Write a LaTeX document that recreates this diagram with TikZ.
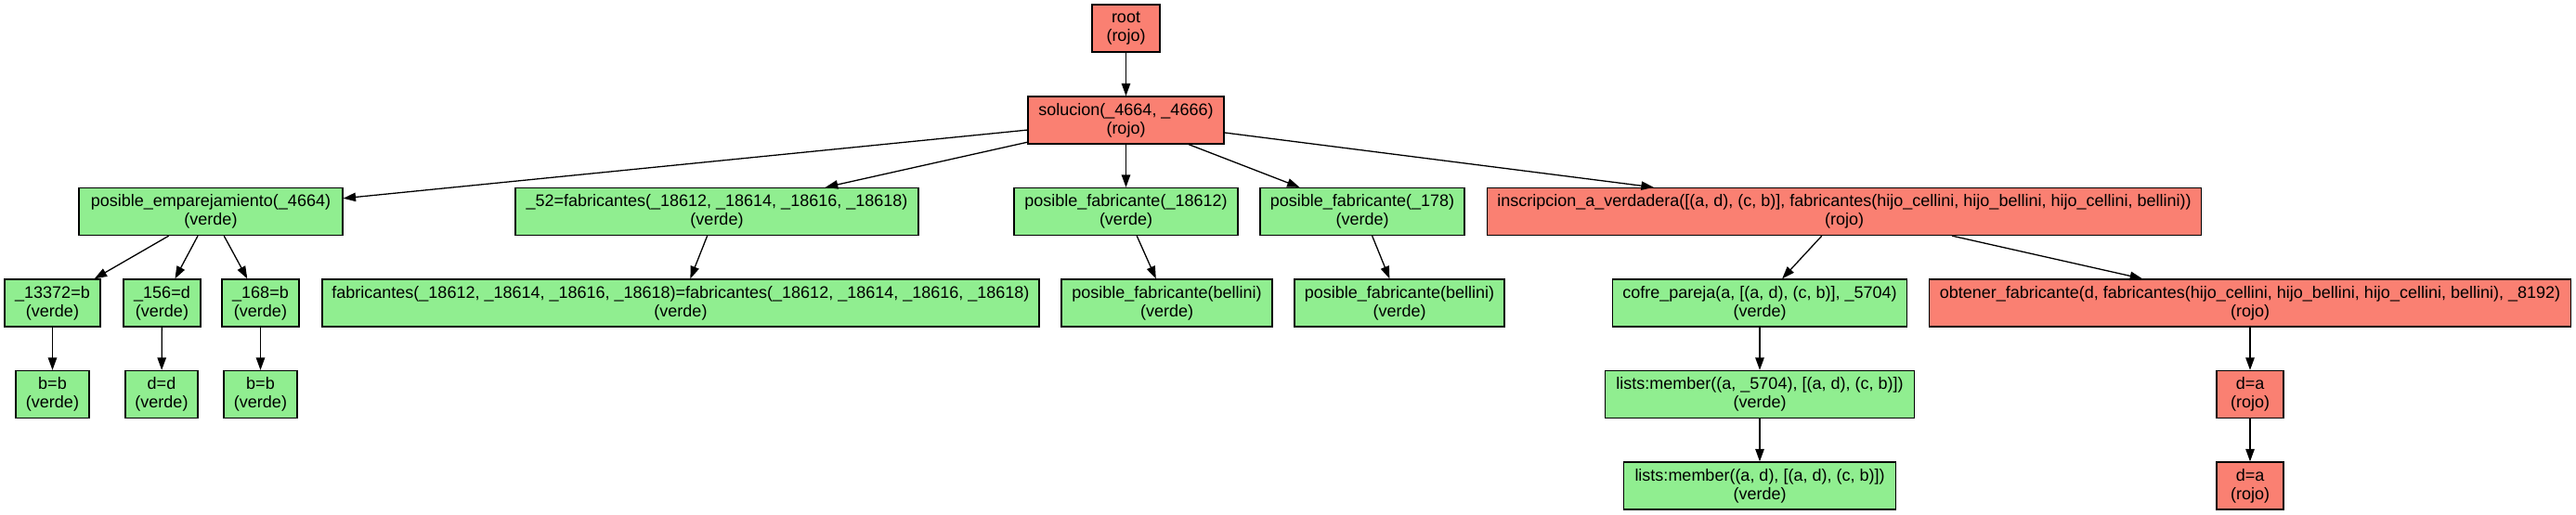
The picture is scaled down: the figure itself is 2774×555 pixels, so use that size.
\documentclass[tikz,border=0pt]{standalone}
\usepackage{fontspec}
\setmainfont{Liberation Sans}
\usetikzlibrary{arrows.meta}
\definecolor{verde}{HTML}{90EE90}
\definecolor{rojo}{HTML}{FA8072}
\begin{document}
\begin{tikzpicture}[x=0.5pt,y=-0.5pt,
 box/.style={draw=black,line width=0.65pt,minimum height=25.5pt,inner sep=0pt,align=center,font=\fontsize{9}{10}\selectfont},
 g/.style={box,fill=verde},
 r/.style={box,fill=rojo},
 edge/.style={-{Triangle[length=6.7pt,width=4.7pt]},line width=0.65pt}]
\useasboundingbox (0,0) rectangle (2774,555);
% row 0
\node[r,minimum width=36.5pt] (root) at (1212.5,30.5) {root\\(rojo)};
% row 1
\node[r,minimum width=105.5pt] (sol) at (1212.5,129.5) {solucion(\_4664, \_4666)\\(rojo)};
% row 2
\node[g,minimum width=142pt] (pe) at (227,228) {posible\_emparejamiento(\_4664)\\(verde)};
\node[g,minimum width=217pt] (f52) at (772,228) {\_52=fabricantes(\_18612, \_18614, \_18616, \_18618)\\(verde)};
\node[g,minimum width=120.5pt] (pf1) at (1212.5,228) {posible\_fabricante(\_18612)\\(verde)};
\node[g,minimum width=110pt] (pf2) at (1467,228) {posible\_fabricante(\_178)\\(verde)};
\node[r,minimum width=384.25pt] (insc) at (1986,228) {inscripcion\_a\_verdadera([(a, d), (c, b)], fabricantes(hijo\_cellini, hijo\_bellini, hijo\_cellini, bellini))\\(rojo)};
% row 3
\node[g,minimum width=51.5pt] (a1) at (56.5,326.5) {\_13372=b\\(verde)};
\node[g,minimum width=41.5pt] (a2) at (174.5,326.5) {\_156=d\\(verde)};
\node[g,minimum width=41.5pt] (a3) at (280.5,326.5) {\_168=b\\(verde)};
\node[g,minimum width=386pt] (fab) at (733,326.5) {fabricantes(\_18612, \_18614, \_18616, \_18618)=fabricantes(\_18612, \_18614, \_18616, \_18618)\\(verde)};
\node[g,minimum width=113.5pt] (pfb1) at (1256.5,326.5) {posible\_fabricante(bellini)\\(verde)};
\node[g,minimum width=113pt] (pfb2) at (1507,326.5) {posible\_fabricante(bellini)\\(verde)};
\node[g,minimum width=158.3pt] (cofre) at (1895,326.5) {cofre\_pareja(a, [(a, d), (c, b)], \_5704)\\(verde)};
\node[r,minimum width=345.5pt] (obt) at (2423,326.5) {obtener\_fabricante(d, fabricantes(hijo\_cellini, hijo\_bellini, hijo\_cellini, bellini), \_8192)\\(rojo)};
% row 4
\node[g,minimum width=39.5pt] (b1) at (56.5,425) {b=b\\(verde)};
\node[g,minimum width=39pt] (b2) at (174,425) {d=d\\(verde)};
\node[g,minimum width=39.5pt] (b3) at (280.5,425) {b=b\\(verde)};
\node[g,minimum width=166.5pt] (lm1) at (1895,425) {lists:member((a, \_5704), [(a, d), (c, b)])\\(verde)};
\node[r,minimum width=36pt] (da1) at (2423,425) {d=a\\(rojo)};
% row 5
\node[g,minimum width=146.3pt] (lm2) at (1895,523.5) {lists:member((a, d), [(a, d), (c, b)])\\(verde)};
\node[r,minimum width=36pt] (da2) at (2423,523.5) {d=a\\(rojo)};
% edges
\draw[edge] (root) -- (sol);
\draw[edge] (sol) -- (pe);
\draw[edge] (sol) -- (f52);
\draw[edge] (sol) -- (pf1);
\draw[edge] (sol) -- (pf2);
\draw[edge] (sol) -- (insc);
\draw[edge] (pe) -- (a1);
\draw[edge] (pe) -- (a2);
\draw[edge] (pe) -- (a3);
\draw[edge] (a1) -- (b1);
\draw[edge] (a2) -- (b2);
\draw[edge] (a3) -- (b3);
\draw[edge] (f52) -- (fab);
\draw[edge] (pf1) -- (pfb1);
\draw[edge] (pf2) -- (pfb2);
\draw[edge] (insc) -- (cofre);
\draw[edge] (insc) -- (obt);
\draw[edge] (cofre) -- (lm1);
\draw[edge] (lm1) -- (lm2);
\draw[edge] (obt) -- (da1);
\draw[edge] (da1) -- (da2);
\end{tikzpicture}
\end{document}
